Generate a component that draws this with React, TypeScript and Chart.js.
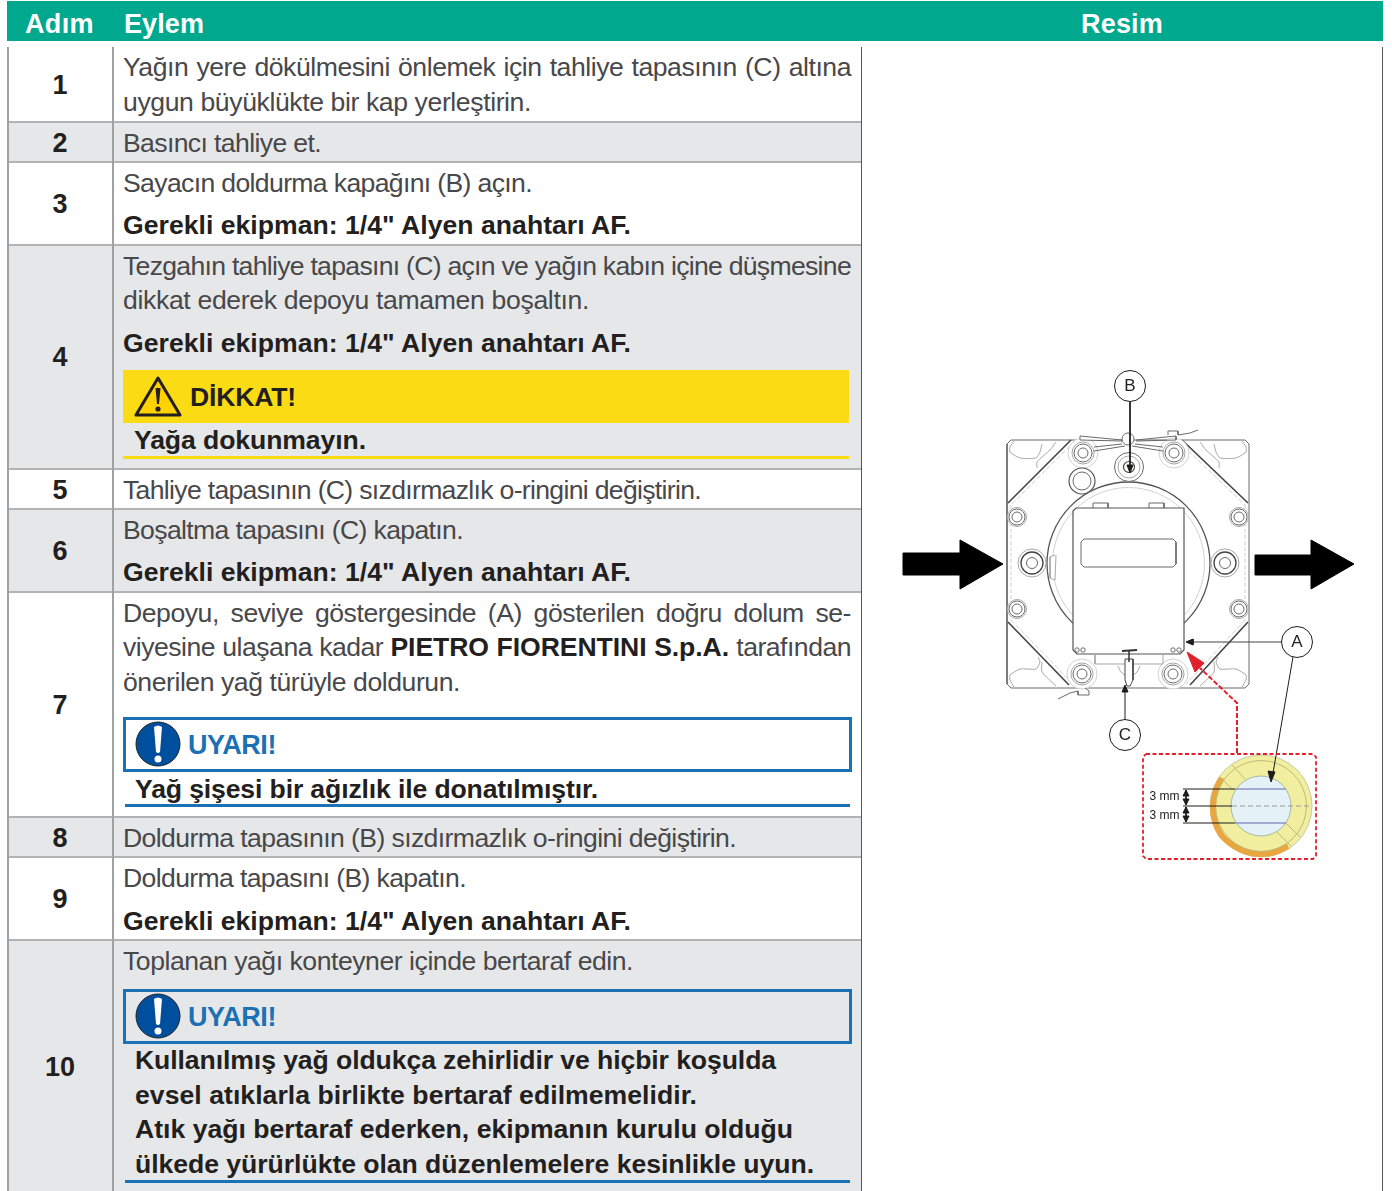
import React, { useEffect, useLayoutEffect, useRef } from "react";
import { Chart, registerables } from "chart.js";

Chart.register(...registerables);

type P = { x: number; y: number };
const pts = (a: number[][]): P[] => a.map(([x, y]) => ({ x, y }));

/* ---------- table content ---------- */
const headers = ["Adım", "Eylem", "Resim"];
const stepNumbers = ["1", "2", "3", "4", "5", "6", "7", "8", "9", "10"];
const equipment = 'Gerekli ekipman: 1/4" Alyen anahtarı AF.';
const warnTitle = "UYARI!";
const dangerTitle = "DİKKAT!";

/* ---------- diagram values (in the picture's own units) ---------- */
const housing = pts([[1011,440],[1007,444],[1007,684],[1011,688],[1245,688],[1249,684],[1249,444],[1245,440],[1011,440]]);
const octagonTL = pts([[1071,440],[1008,503]]);
const octagonTR = pts([[1182,440],[1248,503]]);
const octagonBL = pts([[1008,622],[1069,685]]);
const octagonBR = pts([[1248,622],[1190,685]]);
const octagonTL2 = pts([[1075,441],[1011,505]]);
const octagonTR2 = pts([[1178,441],[1245,505]]);
const octagonBL2 = pts([[1011,620],[1073,684]]);
const octagonBR2 = pts([[1245,620],[1186,684]]);
const pocketTL = pts([[1014,441],[1010,447],[1010,452],[1020,458],[1036,458],[1040,452],[1042,444]]);
const pocketTL2 = pts([[1056,442],[1050,450],[1037,462],[1037,468]]);
const pocketTR = pts([[1242,441],[1246,447],[1246,452],[1236,458],[1220,458],[1216,452],[1214,444]]);
const pocketTR2 = pts([[1200,442],[1206,450],[1219,462],[1219,468]]);
const pocketBL = pts([[1014,687],[1010,680],[1010,675],[1020,669],[1036,669],[1040,662],[1038,657]]);
const pocketBL2 = pts([[1056,686],[1042,672],[1042,662]]);
const pocketBR = pts([[1242,687],[1246,680],[1246,675],[1236,669],[1220,669],[1216,662],[1218,657]]);
const pocketBR2 = pts([[1200,686],[1214,672],[1214,662]]);
const innerLeftEdge = pts([[1011,505],[1011,620]]);
const innerRightEdge = pts([[1245,505],[1245,620]]);
const boltCentres = pts([[1083,453],[1174,453],[1082,674],[1173,674]]);
const sideBoltCentres = pts([[1017,517],[1239,517],[1017,609],[1239,609]]);
const lugCentres = pts([[1032,563],[1225,563]]);
const fillPlug = pts([[1129,467]]);
const sideRing = pts([[1082,481]]);
const meterBody = pts([[1128.5,563.5]]);
const panel = pts([[1076,508],[1184,508],[1184,650],[1180,654],[1077,654],[1073,650],[1073,511],[1076,508]]);
const panelWindow = pts([[1084,539],[1173,539],[1176,542],[1176,564],[1173,567],[1084,567],[1081,564],[1081,542],[1084,539]]);
const tabLeft = pts([[1093,515],[1093,503],[1108,503],[1108,515]]);
const tabRight = pts([[1149,515],[1149,503],[1164,503],[1164,515]]);
const sideClip = pts([[1055,555],[1050,557],[1050,578],[1055,580],[1056,555]]);
const panelDots = pts([[1077,650],[1083,650],[1173,650],[1179,650]]);
const topBar = pts([[1080,436],[1122,440],[1122,441],[1080,440],[1080,436]]);
const topBar2 = pts([[1136,440],[1176,436],[1176,440],[1136,441]]);
const topLeverL = pts([[1094,447],[1122,444]]);
const topLeverL2 = pts([[1094,451],[1125,446]]);
const topLeverR = pts([[1163,447],[1135,444]]);
const topLeverR2 = pts([[1163,451],[1132,446]]);
const topCap = pts([[1128,439]]);
const topFork = pts([[1168,435],[1168,431],[1178,431],[1178,435],[1190,433],[1198,430]]);
const bottomFork = pts([[1058,699],[1070,693],[1078,691],[1078,695],[1089,695],[1089,691],[1085,688]]);
const drainBracket = pts([[1095,655],[1095,664],[1163,664],[1163,655]]);
const drainHandle = pts([[1122,651],[1137,650]]);
const drainStem = pts([[1129,650],[1129,662]]);
const drainBody = pts([[1125,659],[1133,659],[1133,680],[1130,686],[1127,686],[1125,680],[1125,659]]);
const drainCurveL = pts([[1118,666],[1121,672],[1125,675]]);
const drainCurveR = pts([[1140,666],[1137,672],[1133,675]]);

const arrowIn = pts([[903,553],[960,553],[960,540],[1003,564],[960,589],[960,575],[903,575],[903,553]]);
const arrowOut = pts([[1255,555],[1311,555],[1311,540],[1354,564],[1311,589],[1311,575],[1255,575],[1255,555]]);

const calloutCircles = pts([[1130,386],[1125,735],[1297,642]]);
const leaderB = pts([[1130,402],[1130,468]]);
const headB = pts([[1130,473],[1127,465],[1133,465],[1130,473]]);
const leaderC = pts([[1125,719],[1125,690]]);
const headC = pts([[1125,685],[1122,692],[1128,692],[1125,685]]);
const leaderA1 = pts([[1282,642],[1190,642]]);
const headA1 = pts([[1186,642],[1193,639],[1193,645],[1186,642]]);
const leaderA2 = pts([[1293,657],[1273,773]]);
const headA2 = pts([[1271,782],[1268,771],[1275,772],[1271,782]]);

const redLeader = pts([[1237,753],[1237,703],[1200,668]]);
const redHead = pts([[1187,652],[1204,663],[1195,672],[1187,652]]);
const redFrame = pts([[1146,754],[1313,754],[1316,757],[1316,856],[1313,859],[1146,859],[1143,856],[1143,757],[1146,754]]);

const gaugeCentre = pts([[1261,806]]);
const orangeArc = pts([[1222,778],[1216,790],[1213,806],[1215,822],[1222,836],[1234,846],[1247,852],[1261,854],[1275,852],[1288,846]]);
const gaugeSpoke1 = pts([[1232,765],[1245,779]]);
const gaugeSpoke2 = pts([[1222,779],[1233,790]]);
const gaugeSpoke3 = pts([[1277,832],[1292,847]]);
const gaugeSpoke4 = pts([[1285,822],[1300,837]]);
const levelTop = pts([[1235,789],[1286,789]]);
const levelBottom = pts([[1235,823],[1286,823]]);
const dimTop = pts([[1183,789],[1235,789]]);
const dimMid = pts([[1183,806],[1232,806]]);
const dimBottom = pts([[1183,823],[1235,823]]);
const gaugeAxis = pts([[1232,806],[1312,806]]);
const dimShaft1 = pts([[1186,790],[1186,805]]);
const dimShaft2 = pts([[1186,807],[1186,822]]);
const dimHeads = [
  pts([[1186,790],[1183,796],[1189,796],[1186,790]]),
  pts([[1186,805],[1183,799],[1189,799],[1186,805]]),
  pts([[1186,807],[1183,813],[1189,813],[1186,807]]),
  pts([[1186,822],[1183,816],[1189,816],[1186,822]]),
];
const calloutLabels = [
  { x: 1130, y: 386, text: "B", size: 17 },
  { x: 1125, y: 735, text: "C", size: 17 },
  { x: 1297, y: 642, text: "A", size: 17 },
];
const dimLabels = [
  { x: 1164.5, y: 797, text: "3 mm", size: 12 },
  { x: 1164.5, y: 816, text: "3 mm", size: 12 },
];

/* ---------- dataset builders ---------- */
const line = (data: P[], color: string, width = 1, dash: number[] = [], tension = 0) => ({
  type: "scatter" as const, data, showLine: true, borderColor: color, borderWidth: width,
  borderDash: dash, tension, pointRadius: 0, fill: false, borderCapStyle: "butt" as const,
});
const shape = (data: P[], fillColor: string, stroke = fillColor, width = 1, dash: number[] = []) => ({
  type: "scatter" as const, data, showLine: true, borderColor: stroke, borderWidth: width,
  borderDash: dash, backgroundColor: fillColor, pointRadius: 0, fill: "shape",
});
const circles = (data: P[], radius: number, fillColor: string, stroke: string, width = 1) => ({
  type: "scatter" as const, data, showLine: false, pointStyle: "circle", pointRadius: radius,
  pointBackgroundColor: fillColor, pointBorderColor: stroke, pointBorderWidth: width,
});

const G1 = "#6a6a6a", G2 = "#a8a8a8", G3 = "#d2d2d2", K = "#1d1d1b", RED = "#e2202c";

function diagramDatasets() {
  const back = [
    shape(housing, "#ffffff", G1, 1),
    line(innerLeftEdge, G3, 1, [4, 2]), line(innerRightEdge, G3, 1, [4, 2]),
    ...[pocketTL, pocketTL2, pocketTR, pocketTR2, pocketBL, pocketBL2, pocketBR, pocketBR2].map((p) => line(p, G2, 1, [], 0.2)),
    line(octagonTL, "#444", 1.6), line(octagonTR, "#444", 1.6), line(octagonBL, "#444", 1.6), line(octagonBR, "#444", 1.6),
    line(octagonTL2, G3, 1, [5, 2]), line(octagonTR2, G3, 1, [5, 2]), line(octagonBL2, G3, 1, [5, 2]), line(octagonBR2, G3, 1, [5, 2]),
    circles(boltCentres, 15, "#ffffff", G3), circles(boltCentres, 11, "#ffffff", G2), circles(boltCentres, 9, "#ffffff", G1), circles(boltCentres, 5, "#ffffff", G1),
    circles(sideBoltCentres, 9.5, "#ffffff", G2), circles(sideBoltCentres, 8, "#ffffff", G1), circles(sideBoltCentres, 5, "#ffffff", G1),
    circles(meterBody, 81.5, "#ffffff", "#555", 1.3), circles(meterBody, 76, "rgba(0,0,0,0)", G3),
    circles(lugCentres, 14, "#ffffff", G2), circles(lugCentres, 11, "#ffffff", "#444", 1.3), circles(lugCentres, 5.5, "#ffffff", G1),
    circles(fillPlug, 14.5, "#ffffff", G1), circles(fillPlug, 11, "#ffffff", G2), circles(fillPlug, 5.5, "#ffffff", "#444", 1.2),
    circles(sideRing, 13, "#ffffff", "#555", 1.2), circles(sideRing, 9, "#ffffff", G1),
    line(topLeverL, G1), line(topLeverL2, G1), line(topLeverR, G1), line(topLeverR2, G1),
    shape(topBar, "#ffffff", G1), line(topBar2, G1), circles(topCap, 6, "#ffffff", G1),
    line(topFork, G1), line(bottomFork, G1),
    shape(sideClip, "#ffffff", G2),
    shape(tabLeft, "#ffffff", G1), shape(tabRight, "#ffffff", G1),
    shape(panel, "#ffffff", "#555", 1.2), shape(panelWindow, "#ffffff", G1),
    circles(panelDots, 2.2, "#ffffff", G1),
    line(drainBracket, G2), line(drainCurveL, G2, 1, [], 0.4), line(drainCurveR, G2, 1, [], 0.4),
    shape(drainBody, "#ffffff", "#444"), line(drainHandle, "#333", 2), line(drainStem, "#333", 1.5),
    shape(arrowIn, "#000000"), shape(arrowOut, "#000000"),
    /* gauge */
    circles(gaugeCentre, 51, "#f1eea0", "#c8c9a6", 1),
    line(orangeArc, "#e9a63e", 6, [], 0.4),
    circles(gaugeCentre, 45.5, "rgba(0,0,0,0)", "#bcbb7c", 1),
    line(gaugeSpoke1, "#bcbb7c"), line(gaugeSpoke2, "#bcbb7c"), line(gaugeSpoke3, "#bcbb7c"), line(gaugeSpoke4, "#bcbb7c"),
    circles(gaugeCentre, 30, "#e4f2f7", "#a9b8a8", 1),
    line(gaugeAxis, "#9a9a9a", 1, [5, 3]),
    line(levelTop, "#8c94c6", 1.5), line(levelBottom, "#8c94c6", 1.5),
    line(dimTop, K), line(dimMid, K), line(dimBottom, K),
    line(dimShaft1, K), line(dimShaft2, K),
    ...dimHeads.map((h) => shape(h, K)),
    /* callouts */
    line(leaderB, K), shape(headB, K), line(leaderC, K), shape(headC, K),
    line(leaderA1, "#444"), shape(headA1, K), line(leaderA2, K), shape(headA2, K),
    circles(calloutCircles, 15.5, "#ffffff", K, 1),
    line(redLeader, RED, 2, [5, 2]), shape(redHead, RED),
    line(redFrame, RED, 1.8, [4, 2.5]),
  ];
  // Chart.js paints the first dataset last; the list above is written back to front.
  return back.reverse();
}

/* ---------- text line helper ---------- */
const BODY = "#48484a", BOLD = "#231f20";
const SANS = "'Liberation Sans', Arial, sans-serif";

function T(props: { x: number; y: number; r?: number; j?: boolean; ls?: number; b?: boolean; size?: number; color?: string; children: React.ReactNode }) {
  const { x, y, r, j, ls, b, size = 26.6, color, children } = props;
  return (
    <div
      data-r={r !== undefined ? r - x : undefined}
      data-j={j ? "1" : undefined}
      style={{
        position: "absolute", left: x, top: y - 19, height: 40, lineHeight: "40px", whiteSpace: "nowrap",
        fontFamily: SANS, fontWeight: b ? 700 : 400, fontSize: size, color: color ?? (b ? BOLD : BODY),
        letterSpacing: ls,
      }}
    >
      {children}
    </div>
  );
}

function Band(props: { top: number; bottom: number; grey?: boolean }) {
  return (
    <div style={{
      position: "absolute", left: 7, width: 855, top: props.top, height: props.bottom - props.top,
      background: props.grey ? "#e6e7e9" : "#ffffff", borderBottom: "2px solid #b1b3b5", boxSizing: "border-box",
    }} />
  );
}

function Vline({ x, color = "#9fa1a3" }: { x: number; color?: string }) {
  return <div style={{ position: "absolute", left: x, top: 47, width: 2, height: 1144, background: color }} />;
}

function Rule({ top, left, width, color, h = 3 }: { top: number; left: number; width: number; color: string; h?: number }) {
  return <div style={{ position: "absolute", top, left, width, height: h, background: color }} />;
}

function WarnBox({ top, fill }: { top: number; fill: string }) {
  return (
    <>
      <div style={{ position: "absolute", left: 123, top, width: 729, height: 55, border: "3px solid #1b71b3", boxSizing: "border-box", background: fill }} />
      <svg style={{ position: "absolute", left: 135, top: top + 4 }} width="46" height="46" viewBox="0 0 46 46">
        <circle cx="23" cy="23" r="22" fill="#004f9f" stroke="#222" strokeWidth="1" />
        <path d="M19 6 Q23 3 27 6 L25 31 Q23 33 21 31 Z" fill="#fff" />
        <circle cx="23" cy="38" r="3.5" fill="#fff" />
      </svg>
      <T x={188} y={top + 27} r={276} b color="#1b71b3" size={27}>{warnTitle}</T>
    </>
  );
}

export default function App() {
  const canvasRef = useRef<HTMLCanvasElement>(null);
  const rootRef = useRef<HTMLDivElement>(null);

  useLayoutEffect(() => {
    const root = rootRef.current;
    if (!root) return;
    root.querySelectorAll<HTMLElement>("[data-r]").forEach((el) => {
      const target = Number(el.dataset.r);
      const w = el.getBoundingClientRect().width;
      const txt = el.textContent ?? "";
      if (el.dataset.j) {
        const n = (txt.match(/ /g) ?? []).length;
        if (n) el.style.wordSpacing = `${(target - w) / n}px`;
      } else {
        el.style.letterSpacing = `${(target - w) / txt.length}px`;
      }
    });
  }, []);

  useEffect(() => {
    if (!canvasRef.current) return;
    const textPlugin = {
      id: "diagramText",
      afterDatasetsDraw(chart: any) {
        const { ctx, scales } = chart;
        ctx.save();
        ctx.textAlign = "center";
        ctx.textBaseline = "middle";
        ctx.fillStyle = "#222";
        [...calloutLabels, ...dimLabels].forEach((l) => {
          ctx.font = `${l.size}px ${SANS}`;
          ctx.fillText(l.text, scales.x.getPixelForValue(l.x), scales.y.getPixelForValue(l.y));
        });
        ctx.restore();
      },
    };
    const chart = new Chart(canvasRef.current, {
      type: "scatter",
      data: { datasets: diagramDatasets() as any },
      options: {
        animation: false,
        responsive: false,
        maintainAspectRatio: false,
        layout: { padding: 0, autoPadding: false },
        clip: false as any,
        plugins: { legend: { display: false }, tooltip: { enabled: false }, title: { display: false } },
        scales: {
          x: { type: "linear", min: 863, max: 1383, display: false },
          y: { type: "linear", min: 47, max: 1191, reverse: true, display: false },
        },
      } as any,
      plugins: [textPlugin],
    });
    return () => chart.destroy();
  }, []);

  return (
    <div ref={rootRef} style={{ position: "absolute", left: 0, top: 0, width: 1392, height: 1191, overflow: "hidden", background: "#fff" }}>
      {/* header */}
      <div style={{ position: "absolute", left: 7, top: 1, width: 1376, height: 40, background: "#00a88e" }} />
      <T x={25} y={23} r={94} b color="#fff" size={27}>{headers[0]}</T>
      <T x={124} y={23} r={204} b color="#fff" size={27}>{headers[1]}</T>
      <T x={1081} y={23} r={1163} b color="#fff" size={27}>{headers[2]}</T>

      {/* row bands */}
      <Band top={47} bottom={123} />
      <Band top={123} bottom={163} grey />
      <Band top={163} bottom={246} />
      <Band top={246} bottom={470} grey />
      <Band top={470} bottom={510} />
      <Band top={510} bottom={593} grey />
      <Band top={593} bottom={818} />
      <Band top={818} bottom={858} grey />
      <Band top={858} bottom={941} />
      <div style={{ position: "absolute", left: 7, top: 941, width: 855, height: 250, background: "#e6e7e9" }} />
      <Vline x={7} />
      <Vline x={112} />
      <div style={{ position: "absolute", left: 861, top: 47, width: 1, height: 1144, background: "#55565a" }} />
      <div style={{ position: "absolute", left: 1382, top: 47, width: 1, height: 1144, background: "#55565a" }} />

      {/* step numbers */}
      {stepNumbers.map((n, i) => {
        const cy = [85, 143, 204, 357, 490, 551, 705, 838, 899, 1067][i];
        return (
          <div key={n} style={{ position: "absolute", left: 8, width: 104, textAlign: "center", top: cy - 20, lineHeight: "40px", fontFamily: SANS, fontWeight: 700, fontSize: 27, color: BOLD }}>{n}</div>
        );
      })}

      {/* step 1 */}
      <T x={123} y={66} r={851} j ls={-0.45}>Yağın yere dökülmesini önlemek için tahliye tapasının (C) altına</T>
      <T x={123} y={101} r={531}>uygun büyüklükte bir kap yerleştirin.</T>
      {/* step 2 */}
      <T x={123} y={142} r={321}>Basıncı tahliye et.</T>
      {/* step 3 */}
      <T x={123} y={182} r={532}>Sayacın doldurma kapağını (B) açın.</T>
      <T x={123} y={224} r={631} b>{equipment}</T>
      {/* step 4 */}
      <T x={123} y={265} r={851} j ls={-0.7}>Tezgahın tahliye tapasını (C) açın ve yağın kabın içine düşmesine</T>
      <T x={123} y={299} r={589}>dikkat ederek depoyu tamamen boşaltın.</T>
      <T x={123} y={342} r={631} b>{equipment}</T>
      <div style={{ position: "absolute", left: 123, top: 370, width: 726, height: 53, background: "#fbdc14" }} />
      <svg style={{ position: "absolute", left: 134, top: 375 }} width="48" height="43" viewBox="0 0 48 43">
        <path d="M24 3 L46 40 L2 40 Z" fill="#ffd200" stroke="#231f20" strokeWidth="3" strokeLinejoin="round" />
        <path d="M21.5 13 L26.5 13 L25 29 L23 29 Z" fill="#231f20" />
        <circle cx="24" cy="34" r="2.6" fill="#231f20" />
      </svg>
      <T x={190} y={396} r={296} b>{dangerTitle}</T>
      <T x={134} y={439} r={366} b>Yağa dokunmayın.</T>
      <Rule top={456} left={123} width={726} color="#fbdc14" />
      {/* step 5 */}
      <T x={123} y={489} r={701}>Tahliye tapasının (C) sızdırmazlık o-ringini değiştirin.</T>
      {/* step 6 */}
      <T x={123} y={529} r={463}>Boşaltma tapasını (C) kapatın.</T>
      <T x={123} y={571} r={631} b>{equipment}</T>
      {/* step 7 */}
      <T x={123} y={612} r={851} j ls={-0.45}>Depoyu, seviye göstergesinde (A) gösterilen doğru dolum se-</T>
      <T x={123} y={646} r={851} j ls={-0.5}>viyesine ulaşana kadar <b style={{ color: BOLD, letterSpacing: -0.08 }}>PIETRO FIORENTINI S.p.A.</b> tarafından</T>
      <T x={123} y={681} r={460}>önerilen yağ türüyle doldurun.</T>
      <WarnBox top={717} fill="#ffffff" />
      <T x={135} y={788} r={598} b>Yağ şişesi bir ağızlık ile donatılmıştır.</T>
      <Rule top={804} left={125} width={725} color="#1b71b3" />
      {/* step 8 */}
      <T x={123} y={837} r={736}>Doldurma tapasının (B) sızdırmazlık o-ringini değiştirin.</T>
      {/* step 9 */}
      <T x={123} y={877} r={466}>Doldurma tapasını (B) kapatın.</T>
      <T x={123} y={920} r={631} b>{equipment}</T>
      {/* step 10 */}
      <T x={123} y={960} r={633}>Toplanan yağı konteyner içinde bertaraf edin.</T>
      <WarnBox top={989} fill="#e6e7e9" />
      <T x={135} y={1059} r={776} b>Kullanılmış yağ oldukça zehirlidir ve hiçbir koşulda</T>
      <T x={135} y={1094} r={697} b>evsel atıklarla birlikte bertaraf edilmemelidir.</T>
      <T x={135} y={1128} r={793} b>Atık yağı bertaraf ederken, ekipmanın kurulu olduğu</T>
      <T x={135} y={1163} r={814} b>ülkede yürürlükte olan düzenlemelere kesinlikle uyun.</T>
      <Rule top={1180} left={125} width={725} color="#1b71b3" />

      {/* picture cell */}
      <div style={{ position: "absolute", left: 863, top: 47, width: 519, height: 1144 }}>
        <canvas ref={canvasRef} width={520} height={1144} style={{ display: "block", width: 520, height: 1144 }} />
      </div>
    </div>
  );
}
